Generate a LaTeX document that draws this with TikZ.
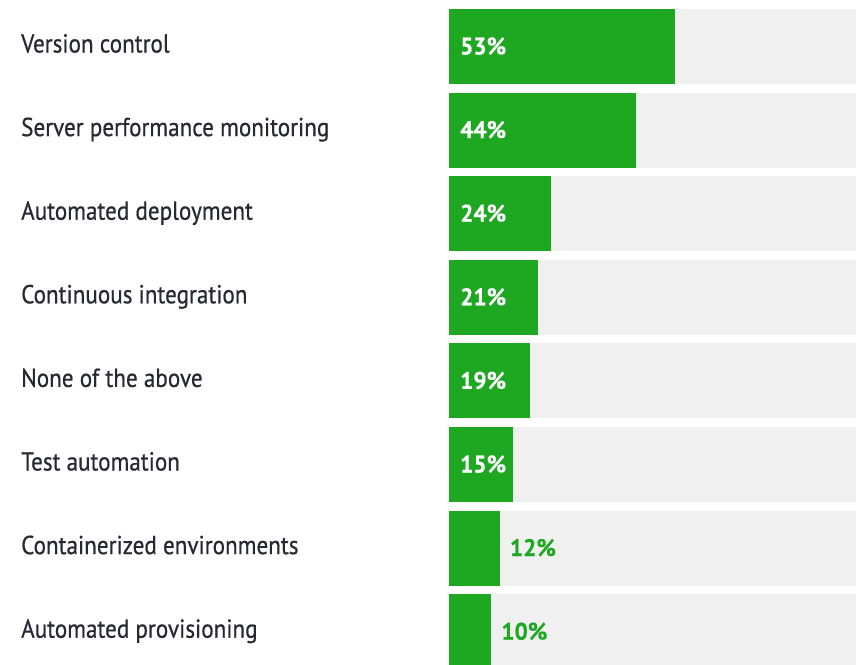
\documentclass[tikz,border=0pt]{standalone}
\usepackage{fontspec}
\newfontfamily\labelfont[FakeStretch=0.89,FakeBold=0.6]{PT Sans}
\newfontfamily\pctfont[FakeStretch=0.97,FakeBold=0.5]{PT Sans Bold}
\definecolor{bargreen}{RGB}{30,168,34}
\definecolor{bargrey}{RGB}{240,240,240}
\definecolor{labeltext}{RGB}{40,40,50}
\tikzset{
  track/.style={fill=bargrey, draw=none},
  bar/.style={fill=bargreen, draw=none},
  cat/.style={anchor=base west, inner sep=0pt, text=labeltext, font=\labelfont\fontsize{26}{26}\selectfont},
  pctin/.style={anchor=base west, inner sep=0pt, text=white, font=\pctfont\fontsize{24}{24}\selectfont},
  pctout/.style={anchor=base west, inner sep=0pt, text=bargreen, font=\pctfont\fontsize{24}{24}\selectfont}
}
\begin{document}
\begin{tikzpicture}[x=1pt,y=-1pt]
\useasboundingbox (0,0) rectangle (856,664);
\foreach \lab/\p/\st [count=\i from 0] in {
  Version control/53/pctin,
  Server performance monitoring/44/pctin,
  Automated deployment/24/pctin,
  Continuous integration/21/pctin,
  None of the above/19/pctin,
  Test automation/15/pctin,
  Containerized environments/12/pctout,
  Automated provisioning/10/pctout} {
  \pgfmathsetmacro{\top}{9+83.6*\i}
  \pgfmathsetmacro{\bot}{\top+75}
  \pgfmathsetmacro{\xe}{448.5+4.27*\p}
  \fill[track] (448.5,\top) rectangle (856,\bot);
  \fill[bar] (448.5,\top) rectangle (\xe,\bot);
  \node[cat] (c\i) at (21,\top+43.5) {\lab};
  \ifnum\p>14
    \node[pctin] (p\i) at (460,\top+45.5) {\p\%};
  \else
    \node[pctout] (p\i) at (\xe+10,\top+45.5) {\p\%};
  \fi
}
\end{tikzpicture}
\end{document}
